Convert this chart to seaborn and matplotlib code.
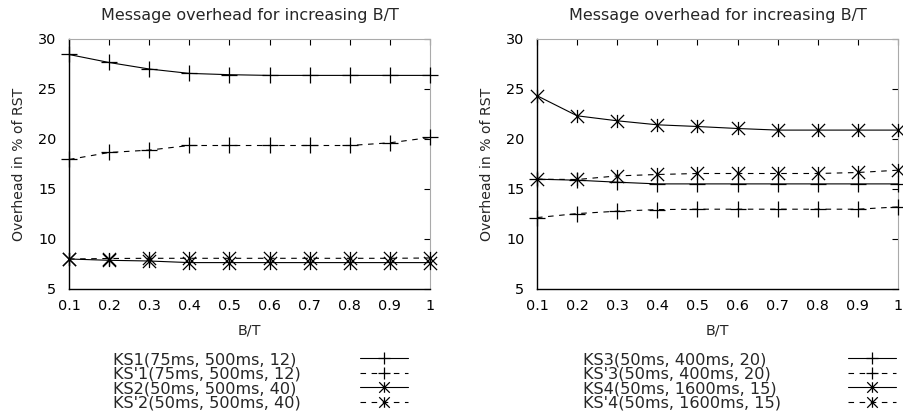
import numpy as np
import pandas as pd
import matplotlib
matplotlib.use("Agg")
import matplotlib.pyplot as plt
from matplotlib.path import Path
import seaborn as sns

# B/T ratios on the x axis
bt = [0.1, 0.2, 0.3, 0.4, 0.5, 0.6, 0.7, 0.8, 0.9, 1.0]

# Left panel: overhead in % of RST
ks1 = [28.45, 27.65, 27.0, 26.56, 26.43, 26.36, 26.36, 26.36, 26.36, 26.36]
ks1p = [17.95, 18.65, 18.89, 19.35, 19.35, 19.35, 19.35, 19.35, 19.62, 20.15]
ks2 = [8.0, 7.87, 7.8, 7.64, 7.64, 7.64, 7.64, 7.64, 7.64, 7.64]
ks2p = [8.0, 8.05, 8.07, 8.07, 8.07, 8.07, 8.07, 8.07, 8.07, 8.1]

# Right panel
ks3 = [15.98, 15.88, 15.68, 15.51, 15.51, 15.51, 15.51, 15.51, 15.51, 15.51]
ks3p = [12.14, 12.54, 12.78, 12.94, 12.98, 12.98, 12.98, 12.98, 12.98, 13.21]
ks4 = [24.33, 22.32, 21.82, 21.42, 21.25, 21.05, 20.89, 20.89, 20.89, 20.89]
ks4p = [15.98, 15.95, 16.31, 16.45, 16.55, 16.55, 16.55, 16.55, 16.65, 16.88]

left_labels = ["KS1(75ms, 500ms, 12)", "KS'1(75ms, 500ms, 12)",
               "KS2(50ms, 500ms, 40)", "KS'2(50ms, 500ms, 40)"]
right_labels = ["KS3(50ms, 400ms, 20)", "KS'3(50ms, 400ms, 20)",
                "KS4(50ms, 1600ms, 15)", "KS'4(50ms, 1600ms, 15)"]

title = "Message overhead for increasing B/T"
xlabel = "B/T"
ylabel = "Overhead in % of RST"
xticks = [0.1, 0.2, 0.3, 0.4, 0.5, 0.6, 0.7, 0.8, 0.9, 1.0]
xticklabels = ["0.1", "0.2", "0.3", "0.4", "0.5", "0.6", "0.7", "0.8", "0.9", "1"]
yticks = [5, 10, 15, 20, 25, 30]

sns.set_theme(style="white")
plt.rcParams["font.family"] = ["DejaVu Sans"]

# gnuplot-style asterisk: a vertical stroke plus an x
star = Path([(0, -1), (0, 1), (-1, -1), (1, 1), (-1, 1), (1, -1)],
            [Path.MOVETO, Path.LINETO, Path.MOVETO, Path.LINETO,
             Path.MOVETO, Path.LINETO])

solid = "-"
dashed = (0, (5, 5))
# (marker, marker size, line style) for solid/dashed plus and star series
styles = [("+", 11, solid), ("+", 11, dashed),
          (star, 9.5, solid), (star, 9.5, dashed)]

fig = plt.figure(figsize=(9.04, 4.15), dpi=100)
ax_l = fig.add_axes([69 / 904, 1 - 289 / 415, 361 / 904, 250 / 415])
ax_r = fig.add_axes([537 / 904, 1 - 289 / 415, 361 / 904, 250 / 415])

# (axes, series, labels, key text x, key sample x) in pixels
panels = [
    (ax_l, [ks1, ks1p, ks2, ks2p], left_labels, 113, 360),
    (ax_r, [ks3, ks3p, ks4, ks4p], right_labels, 583, 848),
]

key_top = 1 - 352 / 415
key_font = {"size": 11.6}
key_spacing = -0.03

for ax, series, labels, text_x, sample_x in panels:
    for vals, lab, (mk, ms, ls) in zip(series, labels, styles):
        df = pd.DataFrame({"bt": bt, "val": vals})
        sns.lineplot(data=df, x="bt", y="val", ax=ax, color="black",
                     linewidth=0.8, linestyle=ls, marker=mk, markersize=ms,
                     markeredgewidth=0.9, markeredgecolor="black",
                     label=lab, legend=False, clip_on=False, zorder=3)
    ax.set_xlim(0.1, 1.0)
    ax.set_ylim(5, 30)
    ax.set_xticks(xticks)
    ax.set_xticklabels(xticklabels)
    ax.set_yticks(yticks)
    ax.tick_params(direction="in", length=4, width=0.8, colors="black",
                   labelsize=10.4, top=True, right=True, pad=7)
    ax.tick_params(axis="y", pad=9)
    for side in ("left", "bottom"):
        ax.spines[side].set_color("black")
        ax.spines[side].set_linewidth(1.0)
    for side in ("top", "right"):
        ax.spines[side].set_color("#aaaaaa")
        ax.spines[side].set_linewidth(0.8)
    ax.set_title(title, fontsize=11.5, pad=14)
    ax.set_xlabel(xlabel, fontsize=10.4, labelpad=8)
    ax.set_ylabel(ylabel, fontsize=10.1, labelpad=9)

    # Key: left-aligned labels in one block, line samples in another
    key_text = ax.legend(handles=ax.lines, labels=labels, loc="upper left",
                         bbox_to_anchor=(text_x / 904, key_top),
                         bbox_transform=fig.transFigure, frameon=False,
                         handlelength=0, handletextpad=0,
                         labelspacing=key_spacing, borderpad=0,
                         borderaxespad=0, prop=key_font)
    for h in key_text.legend_handles:
        h.set_visible(False)
    ax.add_artist(key_text)
    ax.legend(handles=ax.lines, labels=[" "] * len(labels), loc="upper left",
              bbox_to_anchor=(sample_x / 904, key_top),
              bbox_transform=fig.transFigure, frameon=False,
              handlelength=3.0, handletextpad=0, markerscale=0.8,
              labelspacing=key_spacing, borderpad=0, borderaxespad=0,
              prop=key_font)

fig.savefig("out.png", dpi=100)
